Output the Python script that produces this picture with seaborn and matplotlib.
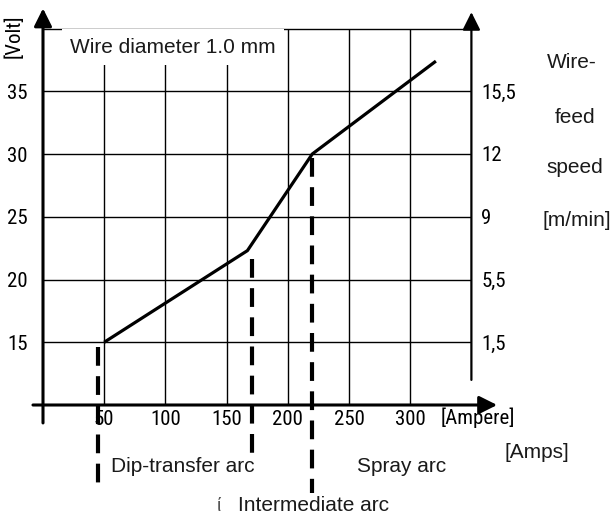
import numpy as np
import pandas as pd
import seaborn as sns
import matplotlib.pyplot as plt

# characteristic curve (current in A, voltage in V)
amps = [50, 167, 220, 321]
volts = [15, 22.3, 30, 37.4]

amp_ticks = [50, 100, 150, 200, 250, 300]
volt_ticks = [15, 20, 25, 30, 35]
feed_labels = ['1,5', '5,5', '9', '12', '15,5']

# arc-region boundaries: (x, y_top, y_bottom)
bound_x = [45, 171, 220]
bound_top = [14.6, 21.6, 29.7]
bound_bottom = [3.6, 6.2, 3.0]

sns.set_style('white')
plt.rcParams['font.family'] = ['Liberation Sans', 'DejaVu Sans']
narrow = ['Liberation Sans Narrow', 'Roboto Condensed', 'DejaVu Sans Condensed',
          'Liberation Sans']
num = dict(family=narrow, fontsize=15, fontstretch='condensed')
ink = '#1a1a1a'

fig = plt.figure(figsize=(6.13, 5.2), dpi=100)
ax = fig.add_axes([43 / 613, 115 / 520, 428.4 / 613, 376.5 / 520])

df = pd.DataFrame({'A': amps, 'V': volts})
sns.lineplot(data=df, x='A', y='V', color='black', lw=2.3, ax=ax, zorder=4,
             solid_capstyle='butt')

ax.set_xlim(0, 350)
ax.set_ylim(10, 40)
ax.set_xticks(amp_ticks)
ax.set_yticks(volt_ticks)
ax.set_xticklabels([str(t) for t in amp_ticks], **num)
ax.set_yticklabels([str(t) for t in volt_ticks], **num)
ax.tick_params(axis='x', length=0, pad=3.5, colors='black')
ax.tick_params(axis='y', length=0, pad=10.8, colors='black')
ax.set_xlabel('')
ax.set_ylabel('')
ax.grid(True, color='black', lw=1.0)
ax.set_axisbelow(True)
for s in ['left', 'bottom', 'right']:
    ax.spines[s].set_visible(False)
ax.spines['top'].set_color('black')
ax.spines['top'].set_linewidth(1.0)

# right-hand wire feed speed scale
ax2 = ax.twinx()
ax2.set_ylim(ax.get_ylim())
ax2.set_yticks(volt_ticks)
ax2.set_yticklabels(feed_labels, **num)
ax2.tick_params(axis='y', length=0, pad=7.2, colors='black')
ax2.grid(False)
for s in ax2.spines.values():
    s.set_visible(False)

# axes with arrow heads
arrow = dict(arrowstyle='-|>', color='black', shrinkA=0, shrinkB=0,
             mutation_scale=27)
ax.annotate('', xy=(0, 41.6), xytext=(0, 8.57),
            arrowprops=dict(arrow, lw=2.2), annotation_clip=False, zorder=6)
ax.annotate('', xy=(371, 10), xytext=(-8.2, 10),
            arrowprops=dict(arrow, lw=2.2), annotation_clip=False, zorder=6)
ax.annotate('', xy=(350, 41.3), xytext=(350, 12.0),
            arrowprops=dict(arrow, lw=1.6), annotation_clip=False, zorder=6)

# dashed region boundaries
for x, y0, y1 in zip(bound_x, bound_top, bound_bottom):
    ax.plot([x, x], [y0, y1], color='black', lw=3, ls=(0, (4.5, 2.5)),
            clip_on=False, zorder=7, solid_capstyle='butt')

ax.text(106, 38.5, 'Wire diameter 1.0 mm', fontsize=15, color=ink,
        ha='center', va='center', zorder=3,
        bbox=dict(boxstyle='square,pad=0.4', facecolor='white', edgecolor='none'))

ax.text(-23.7, 39.4, '[Volt]', rotation=90, ha='center', va='center',
        color='black', **num)
ax.text(355.4, 8.96, '[Ampere]', ha='center', va='center', color='black', **num)
ax.text(403.6, 6.18, '[Amps]', fontsize=15, ha='center', va='center', color=ink)
ax.text(114.4, 5.06, 'Dip-transfer arc', fontsize=15, ha='center', va='center', color=ink)
ax.text(293.3, 5.06, 'Spray arc', fontsize=15, ha='center', va='center', color=ink)
ax.text(220.6, 2.03, 'Intermediate arc', fontsize=15, ha='center', va='center', color=ink)
ax.text(143.8, 1.9, 'ί', fontsize=14, ha='center', va='center', color='#555555')

side = [('Wire-', 432, 37.3), ('feed', 434.6, 32.9), ('speed', 434.6, 28.9),
        ('[m/min]', 436, 24.7)]
for txt, x, y in side:
    ax.text(x, y, txt, fontsize=15, ha='center', va='center', color=ink)

plt.savefig('out.png', dpi=100)
